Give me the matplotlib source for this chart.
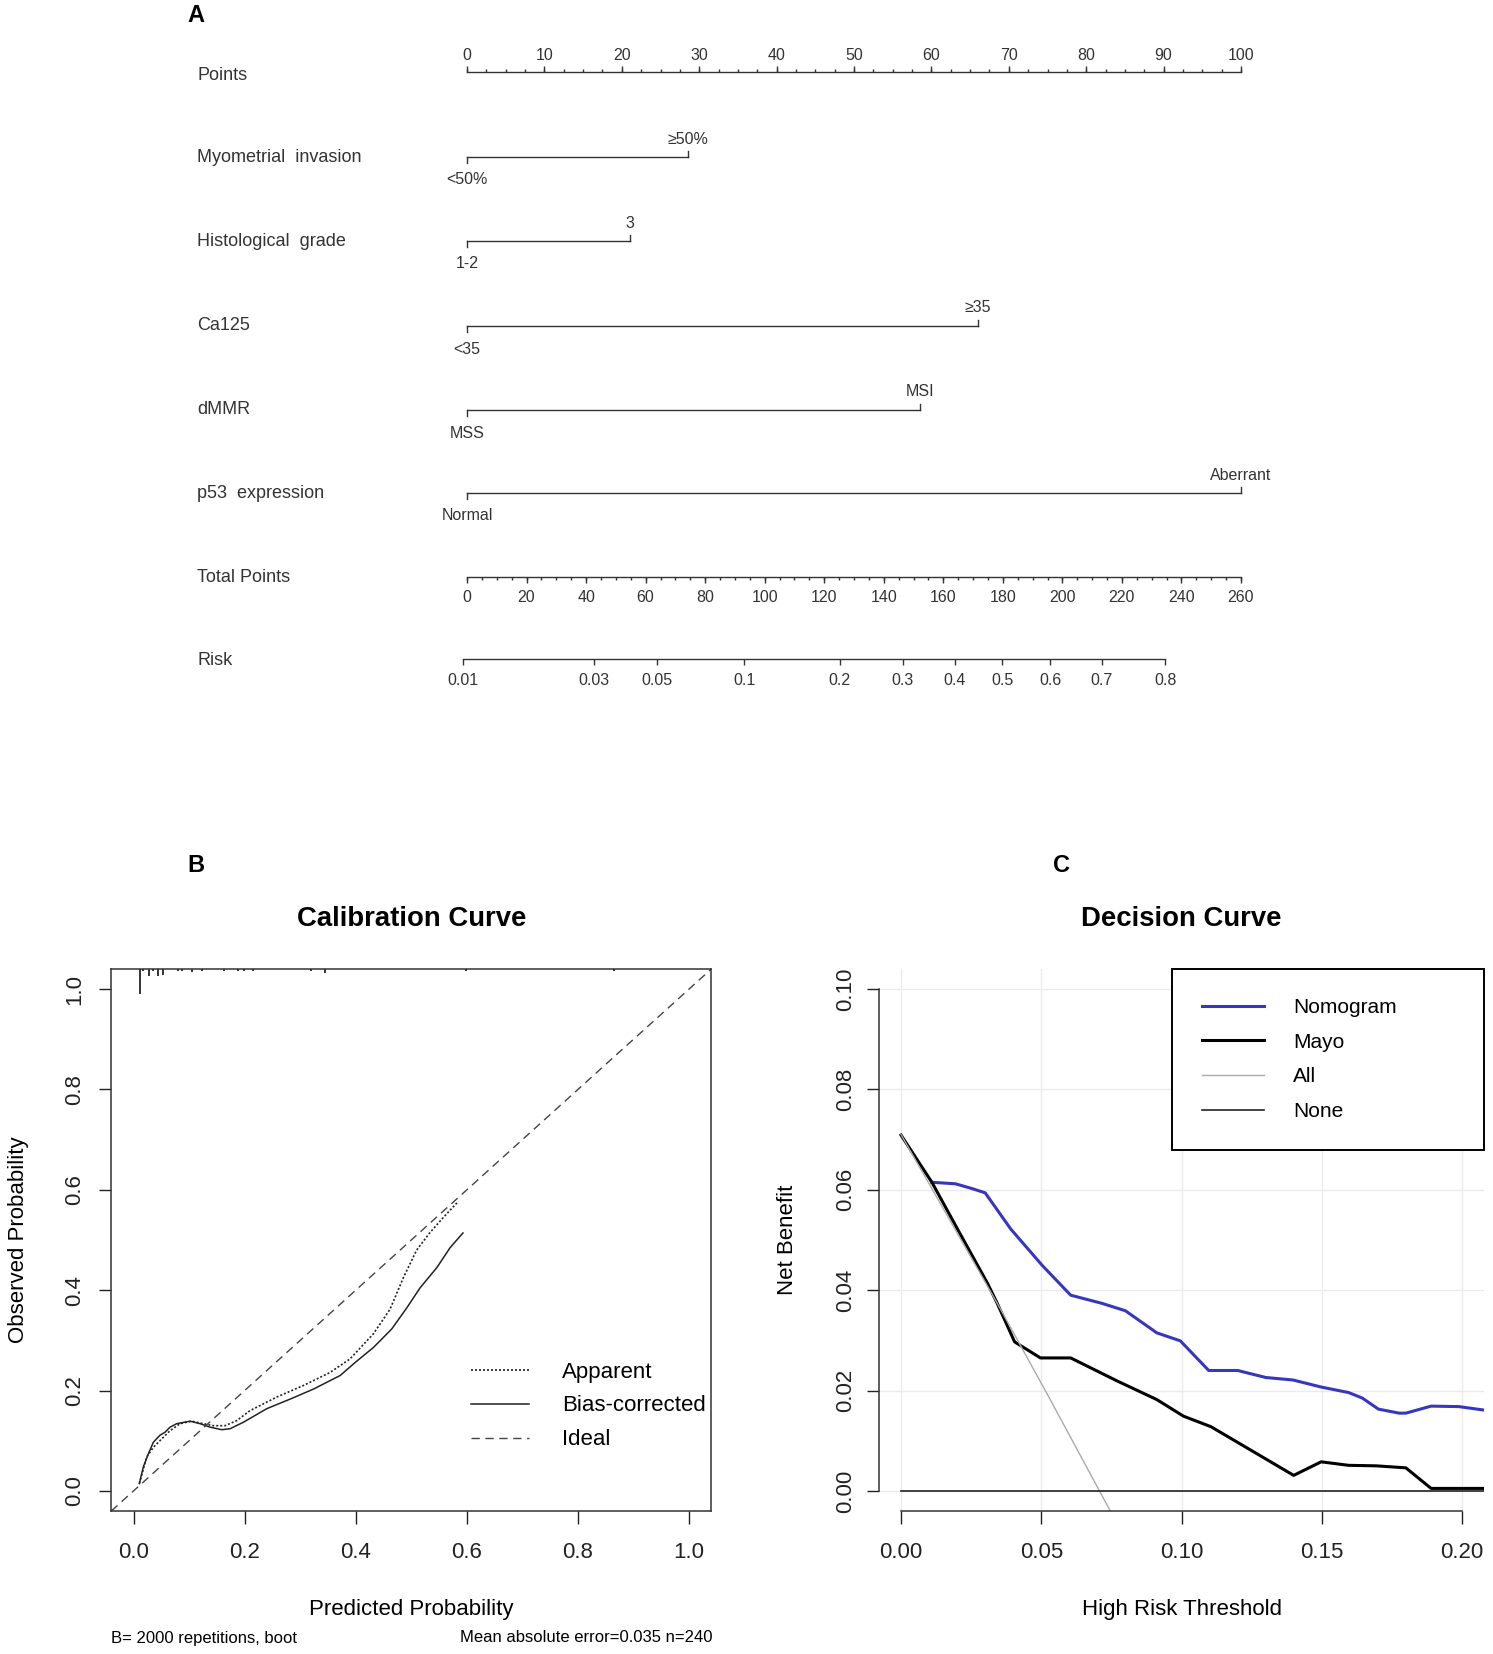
import numpy as np
import matplotlib.pyplot as plt

plt.rcParams["font.family"] = ["Liberation Sans", "DejaVu Sans"]

# ---------------- panel A: nomogram ----------------
var_names = ["Myometrial  invasion", "Histological  grade", "Ca125", "dMMR", "p53  expression"]
var_points = [28.5, 21.0, 66.0, 58.5, 100.0]
low_levels = ["<50%", "1-2", "<35", "MSS", "Normal"]
high_levels = ["\u226550%", "3", "\u226535", "MSI", "Aberrant"]
points_ticks = list(range(0, 101, 10))
total_ticks = list(range(0, 261, 20))
total_max = 260
risk_ticks = [0.01, 0.03, 0.05, 0.1, 0.2, 0.3, 0.4, 0.5, 0.6, 0.7, 0.8]
risk_intercept = -4.56   # linear predictor at 0 total points
risk_slope = 0.02535     # per total point

# ---------------- panel B: calibration ----------------
apparent_x = [0.0105, 0.0237, 0.0357, 0.0537, 0.0657, 0.0837, 0.1047, 0.1257, 0.1437,
              0.1647, 0.1857, 0.2097, 0.2577, 0.3057, 0.3537, 0.3897, 0.4317, 0.4617,
              0.4857, 0.5097, 0.5337, 0.5577, 0.5847]
apparent_y = [0.0147, 0.0675, 0.087, 0.107, 0.12, 0.134, 0.139, 0.134, 0.130,
              0.130, 0.140, 0.160, 0.187, 0.210, 0.236, 0.263, 0.313, 0.362,
              0.425, 0.480, 0.515, 0.545, 0.577]
corrected_x = [0.0105, 0.0177, 0.0267, 0.0357, 0.0477, 0.0567, 0.0657, 0.0777, 0.1017,
               0.1197, 0.138, 0.159, 0.174, 0.198, 0.240, 0.282, 0.324, 0.372, 0.399,
               0.432, 0.465, 0.492, 0.516, 0.546, 0.570, 0.593]
corrected_y = [0.0147, 0.048, 0.074, 0.097, 0.111, 0.117, 0.127, 0.134, 0.139,
               0.134, 0.127, 0.122, 0.124, 0.137, 0.164, 0.183, 0.203, 0.230, 0.256,
               0.286, 0.323, 0.365, 0.405, 0.445, 0.485, 0.514]
rug_x = [0.0111, 0.0177, 0.0285, 0.0357, 0.0435, 0.0537, 0.0795, 0.0867, 0.1047, 0.1227,
         0.1635, 0.1887, 0.1989, 0.2145, 0.3195, 0.3447, 0.599, 0.865]
rug_len = [0.05, 0.004, 0.014, 0.004, 0.014, 0.011, 0.004, 0.004, 0.006, 0.004,
           0.004, 0.004, 0.004, 0.004, 0.004, 0.007, 0.004, 0.004]

# ---------------- panel C: decision curve ----------------
nomo_x = [0.011, 0.0194, 0.025, 0.030, 0.0391, 0.0504, 0.0605, 0.0715, 0.080, 0.0912,
          0.0996, 0.1097, 0.120, 0.1301, 0.1398, 0.1498, 0.1596, 0.1645, 0.1702, 0.1776,
          0.180, 0.189, 0.1989, 0.208]
nomo_y = [0.0615, 0.0612, 0.0603, 0.0594, 0.0522, 0.0449, 0.039, 0.0374, 0.0359, 0.0315,
          0.0299, 0.0240, 0.0240, 0.0226, 0.0221, 0.0207, 0.0196, 0.0185, 0.0163, 0.0155,
          0.0155, 0.0169, 0.0168, 0.0161]
mayo_x = [0.0, 0.011, 0.0208, 0.0307, 0.0342, 0.0405, 0.0497, 0.0605, 0.0771, 0.0912,
          0.1007, 0.1105, 0.140, 0.1498, 0.1596, 0.1694, 0.180, 0.189, 0.208]
mayo_y = [0.0709, 0.0615, 0.0515, 0.0415, 0.0375, 0.0297, 0.0265, 0.0265, 0.0219, 0.0182,
          0.0149, 0.0128, 0.0031, 0.0058, 0.0051, 0.0050, 0.0046, 0.0005, 0.0005]
all_x = [0.0, 0.0342, 0.0532, 0.0748]
all_y = [0.071, 0.0375, 0.0182, -0.0042]
none_x = [0.0, 0.208]
none_y = [0.0, 0.0]

W, H = 1493, 1654
fig = plt.figure(figsize=(W / 100, H / 100), dpi=100)
ink = "#333333"

# ======== A ========
topA = 720
axA = fig.add_axes([0, 1 - topA / H, 1, topA / H])
px_per_pt = 7.74
x0 = 467
axA.set_xlim(-x0 / px_per_pt, (W - x0) / px_per_pt)
axA.set_ylim(topA, 0)
axA.axis("off")

label_x = (197 - x0) / px_per_pt
points_y = 72
var_y = [157, 241, 326, 410, 493]
total_y = 577
risk_y = 659
lw_a = 1.0
fs_lab, fs_tick = 13, 11.5

# Points scale
axA.text(label_x, points_y + 4, "Points", fontsize=fs_lab, va="center", color=ink)
axA.plot([0, 100], [points_y, points_y], color=ink, lw=lw_a)
minor = np.arange(0, 100.01, 2.5)
axA.vlines(minor, points_y - 3, points_y, color=ink, lw=lw_a)
axA.vlines(points_ticks, points_y - 6, points_y, color=ink, lw=lw_a)
for t in points_ticks:
    axA.text(t, points_y - 17, str(t), fontsize=fs_tick, ha="center", va="center", color=ink)

# variables
for name, pts, lo, hi, y in zip(var_names, var_points, low_levels, high_levels, var_y):
    axA.text(label_x, y, name, fontsize=fs_lab, va="center", color=ink)
    axA.plot([0, pts], [y, y], color=ink, lw=lw_a)
    axA.plot([0, 0], [y, y + 6], color=ink, lw=lw_a)
    axA.plot([pts, pts], [y - 6, y], color=ink, lw=lw_a)
    axA.text(0, y + 23, lo, fontsize=fs_tick, ha="center", va="center", color=ink)
    axA.text(pts, y - 18, hi, fontsize=fs_tick, ha="center", va="center", color=ink)

# Total points
scale = 100 / total_max
axA.text(label_x, total_y + 1, "Total Points", fontsize=fs_lab, va="center", color=ink)
axA.plot([0, 100], [total_y, total_y], color=ink, lw=lw_a)
axA.vlines(np.arange(0, total_max + 0.1, 5) * scale, total_y, total_y + 3, color=ink, lw=lw_a)
axA.vlines(np.array(total_ticks) * scale, total_y, total_y + 6, color=ink, lw=lw_a)
for t in total_ticks:
    axA.text(t * scale, total_y + 20, str(t), fontsize=fs_tick, ha="center", va="center", color=ink)

# Risk
risk = np.array(risk_ticks)
risk_pos = (np.log(risk / (1 - risk)) - risk_intercept) / risk_slope * scale
axA.text(label_x, risk_y + 1, "Risk", fontsize=fs_lab, va="center", color=ink)
axA.plot([risk_pos[0], risk_pos[-1]], [risk_y, risk_y], color=ink, lw=lw_a)
axA.vlines(risk_pos, risk_y, risk_y + 6, color=ink, lw=lw_a)
for r, p in zip(risk_ticks, risk_pos):
    axA.text(p, risk_y + 21, f"{r:g}", fontsize=fs_tick, ha="center", va="center", color=ink)

# ======== B ========
top, bot = 969, 1511
axB = fig.add_axes([111.3 / W, 1 - bot / H, 600 / W, (bot - top) / H])
axB.set_xlim(-0.04, 1.04)
axB.set_ylim(-0.04, 1.04)
axB.plot(apparent_x, apparent_y, color="#222222", lw=1.2, ls=(0, (1.2, 1.2)), label="Apparent")
axB.plot(corrected_x, corrected_y, color="#222222", lw=1.1, label="Bias-corrected")
axB.axline((0, 0), (1, 1), color="#444444", lw=1.0, ls=(0, (6, 4)), label="Ideal")
axB.vlines(rug_x, 1.04 - np.array(rug_len), 1.04, color="#222222", lw=1.3)
ticksB = [0.0, 0.2, 0.4, 0.6, 0.8, 1.0]
axB.set_xticks(ticksB)
axB.set_yticks(ticksB)
axB.set_xticklabels([f"{t:.1f}" for t in ticksB])
axB.set_yticklabels([f"{t:.1f}" for t in ticksB], rotation=90, va="center")
axB.tick_params(direction="out", length=9, width=1, labelsize=16, pad=13, colors="#222222")
axB.tick_params(axis="y", pad=10)
for s in axB.spines.values():
    s.set_linewidth(1.1)
    s.set_color(ink)
axB.set_title("Calibration Curve", fontsize=19.8, fontweight="bold", y=1.092, va="center", pad=0)
axB.set_xlabel("Predicted Probability", fontsize=16)
axB.set_ylabel("Observed Probability", fontsize=16)
axB.xaxis.set_label_coords(0.5, -0.162)
axB.yaxis.set_label_coords(-0.137, 0.5)
axB.legend(loc="upper left", bbox_to_anchor=(0.5995, 0.2757), frameon=False, fontsize=16,
           handlelength=2.6, handletextpad=1.5, labelspacing=0.58, borderpad=0, borderaxespad=0)
fig.text(111 / W, 1 - 1638 / H, "B= 2000 repetitions, boot", fontsize=12, va="center", ha="left")
fig.text(712 / W, 1 - 1638 / H, "Mean absolute error=0.035 n=240", fontsize=12, va="center", ha="right")

# ======== C ========
axC = fig.add_axes([878.6 / W, 1 - bot / H, 605.8 / W, (bot - top) / H])
axC.set_xlim(-0.008, 0.208)
axC.set_ylim(-0.004, 0.104)
axC.grid(color="#ebebeb", lw=1.0)
axC.set_axisbelow(True)
axC.plot(nomo_x, nomo_y, color="#3636c0", lw=2.2, label="Nomogram")
axC.plot(mayo_x, mayo_y, color="black", lw=2.2, label="Mayo")
axC.plot(all_x, all_y, color="#aaaaaa", lw=1.0, label="All")
axC.plot(none_x, none_y, color="#222222", lw=1.2, label="None")
xt = [0.0, 0.05, 0.10, 0.15, 0.20]
yt = [0.0, 0.02, 0.04, 0.06, 0.08, 0.10]
axC.set_xticks(xt)
axC.set_yticks(yt)
axC.set_xticklabels([f"{t:.2f}" for t in xt])
axC.set_yticklabels([f"{t:.2f}" for t in yt], rotation=90, va="center")
axC.tick_params(direction="out", length=9, width=1, labelsize=16, pad=13, colors="#222222")
axC.tick_params(axis="y", pad=7)
axC.spines["top"].set_visible(False)
axC.spines["right"].set_visible(False)
axC.spines["left"].set_bounds(0, 0.10)
axC.spines["bottom"].set_bounds(0, 0.20)
for s in ("left", "bottom"):
    axC.spines[s].set_linewidth(1.1)
    axC.spines[s].set_color(ink)
axC.set_title("Decision Curve", fontsize=19.8, fontweight="bold", y=1.092, va="center", pad=0)
axC.set_xlabel("High Risk Threshold", fontsize=16)
axC.set_ylabel("Net Benefit", fontsize=16)
axC.xaxis.set_label_coords(0.5, -0.162)
axC.yaxis.set_label_coords(-0.133, 0.5)
leg = axC.legend(loc="upper left", bbox_to_anchor=(0.485, 0, 0.515, 1), mode="expand",
                 fontsize=15, handlelength=3.0, handletextpad=1.4, labelspacing=0.75,
                 borderpad=1.4, borderaxespad=0, fancybox=False, framealpha=1)
leg.get_frame().set_edgecolor("black")
leg.get_frame().set_linewidth(1.4)

# panel letters
for letter, (x, y) in zip("ABC", [(196, 15), (196, 865), (1062, 865)]):
    fig.text(x / W, 1 - y / H, letter, fontsize=17, fontweight="bold", ha="center", va="center")

fig.savefig("out.png", dpi=100)
